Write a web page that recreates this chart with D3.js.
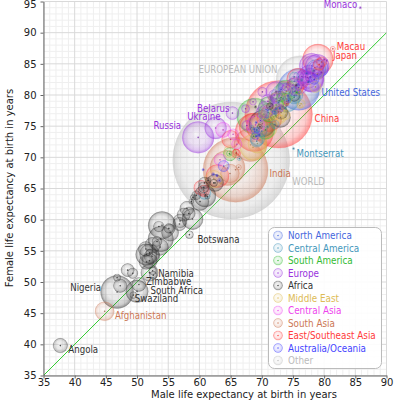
<!DOCTYPE html>
<html><head><meta charset="utf-8">
<script src="https://cdn.jsdelivr.net/npm/d3@7"></script>
<style>
html,body{margin:0;padding:0;background:#fff;}
svg text{font-family:"DejaVu Sans Condensed","DejaVu Sans",sans-serif;font-stretch:condensed;}
svg text.plain{font-family:"DejaVu Sans",sans-serif;font-stretch:normal;}
</style></head>
<body><svg id="c" width="400" height="400"></svg>
<script>
// [name, male LE, female LE, population (millions)]
const northAmerica = [
 ["United States",75.9,80.9,313],["Canada",78.7,84.1,34.0],["Bermuda",77.2,83.5,0.069],
 ["Greenland",68.8,74.5,0.058],["Saint Pierre and Miquelon",77.5,82.1,0.006]];
const centralAmerica = [
 ["Mexico",73.8,79.6,113.7],["Guatemala",69.3,73.0,13.8],["Cuba",75.5,79.9,11.1],
 ["Dominican Republic",75.2,79.6,10.0],["Haiti",60.8,64.3,9.7],["Honduras",69.2,72.6,8.1],
 ["El Salvador",70.3,76.9,6.1],["Nicaragua",70.0,74.2,5.7],["Costa Rica",75.4,80.6,4.6],
 ["Puerto Rico",75.2,82.9,4.0],["Panama",75.0,80.5,3.5],["Jamaica",72.1,75.3,2.9],
 ["Trinidad and Tobago",68.9,74.2,1.2],["Belize",66.4,69.8,0.32],["Bahamas",68.4,74.8,0.31],
 ["Barbados",72.1,77.1,0.29],["Saint Lucia",74.5,79.4,0.16],["Grenada",70.9,74.9,0.11],
 ["Virgin Islands",76.4,82.4,0.11],["Aruba",72.7,78.8,0.11],["Antigua and Barbuda",73.8,77.9,0.087],
 ["Dominica",73.4,79.4,0.072],["Cayman Islands",78.3,83.9,0.051],["Saint Kitts and Nevis",72.4,77.8,0.05],
 ["Montserrat",75.1,71.4,0.005]];
const southAmerica = [
 ["Brazil",68.9,76.6,203.4],["Colombia",71.2,78.0,44.7],["Argentina",73.9,80.7,41.8],
 ["Peru",70.6,74.4,29.2],["Venezuela",71.0,77.2,27.6],["Chile",74.9,81.0,16.9],
 ["Ecuador",72.3,78.4,15.0],["Bolivia",64.9,70.5,10.1],["Paraguay",73.9,79.4,6.5],
 ["Uruguay",73.1,79.6,3.3],["Guyana",64.8,70.6,0.74],["Suriname",68.7,73.4,0.49],
 ["Falkland Islands",75.6,80.4,0.003]];
const europe = [
 ["Russia",59.8,73.2,138.7],["Germany",77.8,82.7,81.5],["France",78.0,84.7,65.3],
 ["United Kingdom",78.0,82.4,62.7],["Italy",78.9,84.6,61.0],["Spain",78.2,84.6,46.8],
 ["Ukraine",62.6,74.7,45.1],["Poland",72.3,80.5,38.4],["Romania",70.7,77.7,21.9],
 ["Netherlands",77.5,82.3,16.8],["Greece",77.5,82.7,10.8],["Portugal",75.0,81.6,10.8],
 ["Belgium",76.6,82.9,10.4],["Czech Republic",74.0,80.6,10.2],["Hungary",71.0,79.0,10.0],
 ["Belarus",65.3,77.1,9.6],["Sweden",79.0,83.5,9.1],["Austria",77.0,82.9,8.2],
 ["Switzerland",78.5,84.4,7.6],["Serbia",72.2,77.9,7.3],["Bulgaria",70.0,77.2,7.1],
 ["Denmark",76.3,81.1,5.5],["Slovakia",72.0,80.0,5.5],["Finland",75.9,82.9,5.3],
 ["Norway",77.7,82.9,4.7],["Ireland",77.8,82.9,4.7],["Bosnia and Herzegovina",75.2,82.2,4.6],
 ["Croatia",72.3,79.4,4.5],["Moldova",67.6,75.1,4.3],["Lithuania",70.1,80.5,3.5],
 ["Albania",75.3,80.6,3.0],["Latvia",67.4,77.8,2.2],["Macedonia",72.9,77.9,2.1],
 ["Slovenia",73.9,81.3,2.0],["Kosovo",69.0,73.4,1.8],["Estonia",68.6,78.9,1.3],
 ["Cyprus",75.9,81.2,1.1],["Montenegro",74.0,79.0,0.66],["Luxembourg",76.4,83.0,0.5],
 ["Malta",77.4,82.0,0.41],["Iceland",78.9,83.3,0.31],["Jersey",78.2,83.5,0.094],
 ["Isle of Man",76.6,81.6,0.084],["Andorra",80.4,85.5,0.085],["Guernsey",79.6,84.6,0.065],
 ["Faroe Islands",77.3,82.8,0.049],["Liechtenstein",79.6,83.6,0.035],["San Marino",80.0,85.7,0.032],
 ["Monaco",85.8,94.0,0.031],["Gibraltar",78.4,83.9,0.029]];
const africa = [
 ["Nigeria",46.8,48.4,155.2],["Ethiopia",54.0,59.1,90.9],["Egypt",70.1,75.4,82.1],
 ["DR Congo",53.8,56.9,71.7],["South Africa",50.0,48.5,49.0],["Sudan",60.9,63.8,45.0],
 ["Tanzania",51.5,54.4,42.7],["Kenya",58.9,60.1,41.1],["Algeria",73.0,76.4,34.9],
 ["Uganda",52.0,54.5,34.6],["Morocco",72.8,79.1,31.9],["Ghana",60.1,62.9,24.8],
 ["Mozambique",52.0,51.5,22.9],["Madagascar",62.5,65.9,21.9],["Cote d'Ivoire",55.3,57.9,21.5],
 ["Cameroon",53.7,55.6,19.7],["Burkina Faso",52.5,55.9,16.8],["Niger",52.4,54.1,16.5],
 ["Malawi",52.0,53.4,15.9],["Mali",51.4,55.3,14.2],["Zambia",51.5,53.2,13.5],
 ["Angola",37.7,39.8,13.3],["Senegal",58.0,61.8,12.6],["Zimbabwe",50.3,49.6,12.1],
 ["Rwanda",56.9,59.8,11.4],["Chad",47.3,49.4,10.8],["Guinea",56.8,59.3,10.6],
 ["Tunisia",73.1,77.2,10.6],["Burundi",57.5,60.8,10.2],["Somalia",48.5,51.9,9.9],
 ["Benin",58.3,61.0,9.3],["Togo",60.8,65.9,6.8],["Libya",75.2,79.9,6.6],
 ["Eritrea",60.7,65.2,5.9],["Sierra Leone",53.5,58.9,5.4],["Central African Republic",49.3,51.4,4.9],
 ["Congo",53.2,56.5,4.2],["Liberia",55.1,58.6,3.8],["Mauritania",59.5,63.9,3.3],
 ["Namibia",52.5,51.8,2.1],["Botswana",58.4,57.6,2.07],["Lesotho",52.6,51.1,1.9],
 ["Gambia",62.3,65.9,1.8],["Guinea-Bissau",46.8,50.7,1.6],["Gabon",52.0,54.7,1.6],
 ["Swaziland",49.4,47.9,1.4],["Mauritius",71.3,78.2,1.3],["Djibouti",59.0,63.6,0.76],
 ["Comoros",61.4,66.3,0.79],["Equatorial Guinea",61.3,63.7,0.67],["Cape Verde",69.7,74.9,0.52],
 ["Western Sahara",58.7,62.9,0.51],["Mayotte",60.6,64.9,0.21],["Sao Tome and Principe",61.0,64.0,0.18],
 ["Seychelles",69.0,78.1,0.09],["Saint Helena",75.5,81.6,0.008]];
const middleEast = [
 ["Turkey",70.4,74.9,78.8],["Iran",68.6,71.6,77.9],["Iraq",69.3,72.2,30.4],
 ["Saudi Arabia",72.6,76.7,26.1],["Yemen",62.3,66.5,24.1],["Syria",72.7,77.3,22.5],
 ["Azerbaijan",64.9,70.9,8.4],["Israel",78.9,83.4,7.5],["Jordan",78.6,81.3,6.5],
 ["United Arab Emirates",74.0,79.3,5.1],["Georgia",74.0,80.6,4.6],["Lebanon",73.8,76.8,4.1],
 ["Armenia",69.7,76.6,3.0],["Oman",71.9,76.5,3.0],["West Bank",73.0,77.3,2.6],
 ["Kuwait",76.3,78.6,2.6],["Gaza Strip",73.0,76.2,1.7],["Bahrain",76.0,80.5,1.2],
 ["Qatar",76.1,78.3,0.85]];
const centralAsia = [
 ["Uzbekistan",69.0,75.2,28.1],["Kazakhstan",63.8,74.4,15.5],["Tajikistan",63.3,69.6,7.6],
 ["Kyrgyzstan",65.4,73.7,5.6],["Turkmenistan",66.0,72.1,5.0]];
const southAsia = [
 ["India",65.8,68.0,1189],["Pakistan",64.5,68.3,187.3],["Bangladesh",68.2,72.0,158.6],
 ["Afghanistan",44.8,45.3,29.8],["Nepal",64.9,67.4,29.4],["Sri Lanka",72.3,79.0,21.3],
 ["Bhutan",66.3,68.4,0.71],["Maldives",72.7,77.3,0.39]];
const eastAsia = [
 ["China",72.7,76.9,1336.7],["Indonesia",68.8,74.0,245.6],["Japan",79.0,85.7,126.5],
 ["Philippines",68.7,74.8,101.8],["Vietnam",69.7,74.9,90.5],["Thailand",71.2,76.1,66.7],
 ["Myanmar",62.9,67.0,53.9],["South Korea",75.8,82.5,48.8],["Malaysia",71.3,77.0,28.7],
 ["North Korea",65.0,72.9,24.5],["Taiwan",75.4,81.4,23.1],["Cambodia",60.3,65.1,14.7],
 ["Hong Kong",79.2,84.9,7.1],["Laos",60.7,64.6,6.5],["Singapore",79.6,85.3,4.7],
 ["Mongolia",65.9,70.6,3.1],["Timor-Leste",65.9,70.8,1.2],["Macau",81.4,87.4,0.57],
 ["Brunei",74.0,78.6,0.4]];
const oceania = [
 ["Australia",79.3,84.3,21.8],["Papua New Guinea",63.9,68.6,6.2],["New Zealand",78.4,82.5,4.3],
 ["Fiji",69.2,74.4,0.88],["Solomon Islands",72.1,77.3,0.57],["French Polynesia",74.3,79.1,0.29],
 ["New Caledonia",73.1,80.9,0.26],["Vanuatu",63.2,66.3,0.22],["Samoa",69.8,75.9,0.19],
 ["Guam",75.8,81.6,0.18],["Kiribati",62.2,67.3,0.1],["Micronesia",69.6,73.6,0.1],
 ["Tonga",72.9,77.9,0.1],["Marshall Islands",69.2,73.4,0.067],["American Samoa",71.0,77.6,0.067],
 ["Northern Mariana Islands",74.2,79.9,0.046],["Palau",69.1,75.6,0.021],["Tuvalu",62.8,67.1,0.01],
 ["Nauru",60.6,68.0,0.009]];
const other = [["World",65.1,69.5,6930],["European Union",76.2,82.4,502]];

const regionNames = ["North America","Central America","South America","Europe","Africa","Middle East","Central Asia","South Asia","East/Southeast Asia","Australia/Oceania","Other"];
const regionData = [northAmerica,centralAmerica,southAmerica,europe,africa,middleEast,centralAsia,southAsia,eastAsia,oceania,other];
const regionColors = ["#4466dd","#4497bb","#33bb33","#9933dd","#333333","#ddbb55","#ee44ee","#cc7755","#ff3b3b","#4444ff","#bbbbbb"];

const xTicks = [35,40,45,50,55,60,65,70,75,80,85,90];
const yTicks = [35,40,45,50,55,60,65,70,75,80,85,90,95];

// labelled points: [name, text, anchor, dx, dy, colour index]
const labels = [
 ["Monaco","Monaco","end",-3,0.5,3],["Macau","Macau","start",4,1.5,8],["Japan","Japan","start",15,0,8],
 ["United States","United States","start",23,7,0],["China","China","start",36,7.5,8],
 ["Montserrat","Montserrat","start",3,8,1],["India","India","start",34,7,7],
 ["World","WORLD","start",61,25,10],["European Union","EUROPEAN UNION","end",-23,-7,10],
 ["Belarus","Belarus","end",-3,-1.5,3],["Ukraine","Ukraine","end",5,-8.5,3],["Russia","Russia","end",-17,-8,3],
 ["Botswana","Botswana","start",8,8.5,4],["Namibia","Namibia","start",5.5,6.5,4],
 ["Zimbabwe","Zimbabwe","start",7,1,4],["South Africa","South Africa","start",13.5,3,4],
 ["Swaziland","Swaziland","start",1.5,6.5,4],["Nigeria","Nigeria","end",-16,-1,4],
 ["Afghanistan","Afghanistan","start",10.5,7.5,7],["Angola","Angola","start",8,7.5,4]];

const svg = d3.select("#c");
const x = d3.scaleLinear().domain([35,90]).range([43.5,386.5]);
const y = d3.scaleLinear().domain([35,95]).range([375.5,1.5]);
const r = d3.scalePow().exponent(1/3).domain([0,6930]).range([0,58.5]);

const defs = svg.append("defs");
regionColors.forEach((c,i)=>{
  const g = defs.append("radialGradient").attr("id","g"+i)
    .attr("cx","50%").attr("cy","50%").attr("r","50%").attr("fx","42%").attr("fy","38%");
  g.append("stop").attr("offset","0%").attr("stop-color","#fff").attr("stop-opacity",0.25);
  g.append("stop").attr("offset","55%").attr("stop-color",c).attr("stop-opacity",0.1);
  g.append("stop").attr("offset","85%").attr("stop-color",c).attr("stop-opacity",0.25);
  g.append("stop").attr("offset","100%").attr("stop-color",c).attr("stop-opacity",0.55);
});
defs.append("clipPath").attr("id","plot").append("rect")
  .attr("x",x(35)).attr("y",y(95)).attr("width",x(90)-x(35)).attr("height",y(35)-y(95));

// grid
const grid = svg.append("g");
d3.range(36,90).filter(v=>v%5).forEach(v=>{
  grid.append("line").attr("x1",x(v)).attr("x2",x(v)).attr("y1",y(35)).attr("y2",y(95)).attr("stroke","#efefef");
});
d3.range(36,95).filter(v=>v%5).forEach(v=>{
  grid.append("line").attr("y1",y(v)).attr("y2",y(v)).attr("x1",x(35)).attr("x2",x(90)).attr("stroke","#efefef");
});
xTicks.forEach(v=>grid.append("line").attr("x1",x(v)).attr("x2",x(v)).attr("y1",y(35)).attr("y2",y(95)).attr("stroke","#d9d9d9"));
yTicks.forEach(v=>grid.append("line").attr("y1",y(v)).attr("y2",y(v)).attr("x1",x(35)).attr("x2",x(90)).attr("stroke","#d9d9d9"));

// all points
const pts = [];
regionData.forEach((arr,ri)=>arr.forEach(d=>pts.push({name:d[0],m:d[1],f:d[2],p:d[3],ri})));
pts.sort((a,b)=>b.p-a.p);

const plot = svg.append("g").attr("clip-path","url(#plot)");
plot.append("line").attr("x1",x(35)).attr("y1",y(35)).attr("x2",x(90)).attr("y2",y(90))
  .attr("stroke","#33cc33").attr("stroke-width",1);
const bub = plot.selectAll("g.b").data(pts).join("g").attr("class","b");
bub.append("circle").attr("cx",d=>x(d.m)).attr("cy",d=>y(d.f)).attr("r",d=>Math.max(1.2,r(d.p)))
  .attr("fill",d=>"url(#g"+d.ri+")").attr("stroke",d=>regionColors[d.ri]).attr("stroke-opacity",0.25).attr("stroke-width",0.6);
bub.append("circle").attr("cx",d=>x(d.m)).attr("cy",d=>y(d.f)).attr("r",0.8)
  .attr("fill",d=>d3.color(regionColors[d.ri]).darker(0.8)).attr("fill-opacity",0.8);

// axes
const ax = svg.append("g").attr("transform",`translate(0,${y(35)})`)
  .call(d3.axisBottom(x).tickValues(xTicks).tickSize(3).tickPadding(0).tickSizeOuter(0));
const ay = svg.append("g").attr("transform",`translate(${x(35)},0)`)
  .call(d3.axisLeft(y).tickValues(yTicks).tickSize(3).tickPadding(4).tickSizeOuter(0));
[ax,ay].forEach(a=>{
  a.selectAll("path,line").attr("stroke","#666");
  a.selectAll("text").attr("font-size",10).attr("fill","#222").attr("class","plain");
});
ay.selectAll(".tick text").filter(d=>d===95).attr("dy","0.32em").attr("y",2.8);

svg.append("text").attr("class","plain").attr("x",244).attr("y",397.5).attr("text-anchor","middle").attr("font-size",10).attr("fill","#222")
  .text("Male life expectancy at birth in years");
svg.append("text").attr("class","plain").attr("transform","translate(12.5,188) rotate(-90)").attr("text-anchor","middle").attr("font-size",10).attr("fill","#222")
  .text("Female life expectancy at birth in years");

// labels
const byName = new Map(pts.map(d=>[d.name,d]));
labels.forEach(([n,t,anc,dx,dy,ci])=>{
  const d = byName.get(n);
  svg.append("text").attr("x",x(d.m)+dx).attr("y",y(d.f)+dy).attr("text-anchor",anc)
    .attr("font-size",9.6).attr("fill",regionColors[ci]).text(t);
});

// legend
const lg = svg.append("g");
lg.append("rect").attr("x",268.5).attr("y",227.5).attr("width",113).attr("height",141).attr("rx",6)
  .attr("fill","#fff").attr("fill-opacity",0.9).attr("stroke","#bbb");
regionNames.forEach((n,i)=>{
  const cy = 235.5 + i*12.5;
  lg.append("circle").attr("cx",278).attr("cy",cy).attr("r",4.5).attr("fill","url(#g"+i+")")
    .attr("stroke",regionColors[i]).attr("stroke-opacity",0.35).attr("stroke-width",0.6);
  lg.append("circle").attr("cx",278).attr("cy",cy).attr("r",0.7).attr("fill",regionColors[i]);
  lg.append("text").attr("x",288).attr("y",cy+3.5).attr("font-size",9.8).attr("fill",regionColors[i]).text(n);
});
</script></body></html>
